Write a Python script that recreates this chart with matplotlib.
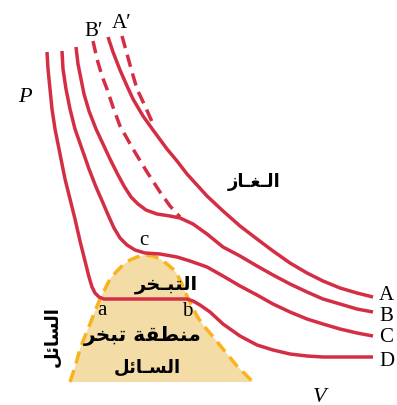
import matplotlib
matplotlib.use('Agg')
import matplotlib.pyplot as plt

# isotherms (V, P)
D_V = [47, 48, 50, 52, 55, 60, 65, 70, 75, 80, 85, 89, 92, 95, 99, 104, 110, 150, 187,
       193, 200, 210, 223, 240, 257, 273, 290, 307, 323, 345, 373]
D_P = [353, 336, 316, 296, 276, 251, 226, 206, 186, 164, 144, 128, 118, 112, 108, 106, 106, 106, 106,
       104, 100, 93, 81, 69, 60, 55, 51, 49, 48, 48, 48]

C_V = [62, 63, 66, 70, 75, 82, 89, 96, 103, 109, 114, 120, 127, 135, 145, 160, 177, 190,
       207, 223, 240, 257, 273, 290, 307, 323, 340, 357, 373]
C_P = [354, 336, 316, 296, 276, 256, 236, 218, 202, 188, 177, 167, 160, 155, 152, 151, 148, 144,
       138, 129, 119, 110, 101, 93, 86, 81, 76, 72, 69]

B_V = [76, 78, 81, 84, 89, 96, 103, 110, 117, 124, 131, 138, 146, 157, 170, 180, 193, 207,
       223, 240, 257, 273, 290, 307, 323, 340, 357, 373]
B_P = [358, 341, 326, 311, 294, 276, 261, 246, 232, 219, 208, 201, 195, 191, 189, 187, 181, 171,
       158, 149, 139, 130, 121, 113, 106, 101, 96, 93]

A_V = [108, 113, 120, 127, 133, 143, 153, 167, 177, 187, 197, 207, 223, 240, 257, 273, 290,
       307, 323, 340, 357, 373]
A_P = [368, 353, 335, 319, 306, 289, 275, 256, 244, 231, 220, 209, 194, 179, 166, 154, 142,
       132, 124, 117, 112, 108]

# dashed branches
A2_V = [122, 127, 132, 137, 145, 153]
A2_P = [369, 351, 333, 316, 299, 281]
B2_V = [93, 97, 102, 107, 113, 120, 133, 147, 160, 170, 180]
B2_P = [364, 346, 329, 316, 298, 279, 256, 233, 213, 199, 188]

# two-phase dome
DOME_V = [70, 75, 80, 85, 90, 95, 100, 105, 110, 117, 123, 130, 137, 145, 153, 160, 167,
          173, 177, 182, 187, 192, 197, 203, 210, 223, 237, 253]
DOME_P = [23, 38, 56, 69, 81, 94, 106, 116, 126, 134, 140, 145, 148, 150, 149, 146, 141,
          136, 131, 121, 109, 99, 89, 80, 72, 56, 39, 23]

CURVE_LABELS = ['A', 'B', 'C', 'D']
CURVE_LABEL_P = [110, 89, 68, 44]

RED = '#d42e45'
ORANGE = '#fbb31c'
TAN = '#f3dca6'
SERIF = 'Liberation Serif'
ARABIC = ['DejaVu Sans']

# presentation forms: isolated, final, initial, medial
FORMS = {
    '\u0627': ('\uFE8D', '\uFE8E', None, None),
    '\u0644': ('\uFEDD', '\uFEDE', '\uFEDF', '\uFEE0'),
    '\u063A': ('\uFECD', '\uFECE', '\uFECF', '\uFED0'),
    '\u0632': ('\uFEAF', '\uFEB0', None, None),
    '\u0633': ('\uFEB1', '\uFEB2', '\uFEB3', '\uFEB4'),
    '\u0626': ('\uFE89', '\uFE8A', '\uFE8B', '\uFE8C'),
    '\u062A': ('\uFE95', '\uFE96', '\uFE97', '\uFE98'),
    '\u0628': ('\uFE8F', '\uFE90', '\uFE91', '\uFE92'),
    '\u062E': ('\uFEA5', '\uFEA6', '\uFEA7', '\uFEA8'),
    '\u0631': ('\uFEAD', '\uFEAE', None, None),
    '\u0645': ('\uFEE1', '\uFEE2', '\uFEE3', '\uFEE4'),
    '\u0646': ('\uFEE5', '\uFEE6', '\uFEE7', '\uFEE8'),
    '\u0637': ('\uFEC1', '\uFEC2', '\uFEC3', '\uFEC4'),
    '\u0642': ('\uFED5', '\uFED6', '\uFED7', '\uFED8'),
    '\u0629': ('\uFE93', '\uFE94', None, None),
    '\u0640': ('\u0640', '\u0640', '\u0640', '\u0640'),
}


def shape(text):
    ''' join arabic letters and put them in visual order '''
    out = []
    for i, ch in enumerate(text):
        if ch not in FORMS:
            out.append(ch)
            continue
        prev = text[i - 1] if i > 0 else ''
        nxt = text[i + 1] if i + 1 < len(text) else ''
        joins_prev = prev in FORMS and FORMS[prev][2] is not None
        joins_next = nxt in FORMS and FORMS[ch][2] is not None
        iso, fin, ini, med = FORMS[ch]
        if joins_prev and joins_next:
            out.append(med)
        elif joins_prev:
            out.append(fin)
        elif joins_next:
            out.append(ini)
        else:
            out.append(iso)
    return ''.join(out[::-1])


fig = plt.figure(figsize=(3.97, 4.06), dpi=100)
ax = fig.add_axes([0, 0, 1, 1])
ax.set_xlim(0, 397)
ax.set_ylim(0, 406)
ax.axis('off')

# dome
ax.fill(DOME_V, DOME_P, color=TAN, lw=0, zorder=1)
ax.plot(DOME_V, DOME_P, color=ORANGE, lw=2.5, dashes=(3.6, 2), zorder=2)

# isotherms
for v, p in [(A_V, A_P), (B_V, B_P), (C_V, C_P), (D_V, D_P)]:
    ax.plot(v, p, color=RED, lw=2.5, solid_capstyle='butt', solid_joinstyle='round', zorder=3)
for v, p in [(A2_V, A2_P), (B2_V, B2_P)]:
    ax.plot(v, p, color=RED, lw=2.5, dashes=(3.6, 2), zorder=3)

# end labels
for lab, p in zip(CURVE_LABELS, CURVE_LABEL_P):
    ax.text(379, p, lab, family=SERIF, fontsize=15, ha='left', va='center')

ax.text(94, 374, 'B\u2032', family=SERIF, fontsize=15, ha='center', va='center')
ax.text(122, 382, 'A\u2032', family=SERIF, fontsize=15, ha='center', va='center')
ax.text(25, 309, 'P', family=SERIF, style='italic', fontsize=16, ha='center', va='center')
ax.text(320, 8, 'V', family=SERIF, style='italic', fontsize=16, ha='center', va='center')

ax.text(144, 165, 'c', family=SERIF, fontsize=15, ha='center', va='center')
ax.text(102, 95, 'a', family=SERIF, fontsize=15, ha='center', va='center')
ax.text(187, 94, 'b', family=SERIF, fontsize=15, ha='center', va='center')

# arabic labels
ax.text(254, 224, shape('الـغـاز'), family=ARABIC, fontweight='bold', fontsize=13,
        ha='center', va='center')
ax.text(166, 121, shape('التبـخر'), family=ARABIC, fontweight='bold', fontsize=14,
        ha='center', va='center')
ax.text(143, 70, shape('منطقة تبخر'), family=ARABIC, fontweight='bold', fontsize=14.5,
        ha='center', va='center')
ax.text(147, 38, shape('السـائل'), family=ARABIC, fontweight='bold', fontsize=13,
        ha='center', va='center')
ax.text(52, 69, shape('السائل'), family=ARABIC, fontweight='bold', fontsize=13,
        ha='center', va='center', rotation=90)

fig.savefig('out.png', dpi=100)
